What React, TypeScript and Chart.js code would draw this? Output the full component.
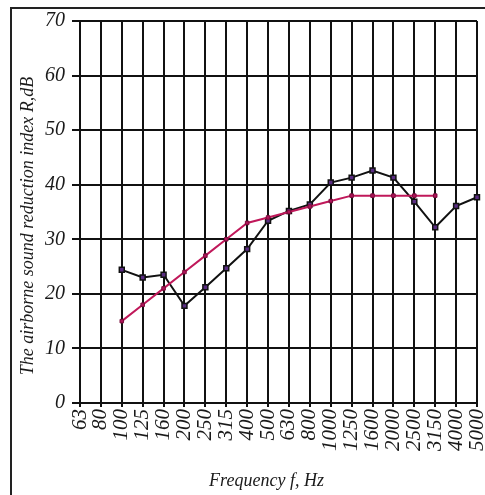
import React, { useEffect, useRef } from 'react';
import { Chart, registerables } from 'chart.js';

Chart.register(...registerables);

const frequencies = ['63', '80', '100', '125', '160', '200', '250', '315', '400', '500', '630', '800', '1000', '1250', '1600', '2000', '2500', '3150', '4000', '5000'];
const measured = [null, null, 24.4, 23.0, 23.5, 17.8, 21.2, 24.7, 28.2, 33.4, 35.2, 36.4, 40.4, 41.3, 42.6, 41.3, 36.9, 32.2, 36.1, 37.7];
const reference = [null, null, 15, 18, 21, 24, 27, 30, 33, 34, 35, 36, 37, 38, 38, 38, 38, 38, null, null];
const yMin = 0;
const yMax = 70;
const yStep = 10;

const xTitle = 'Frequency f, Hz';
const yTitle = 'The airborne sound reduction index R,dB';

const FONT = '"Liberation Serif", "Times New Roman", serif';

export default function App() {
  const ref = useRef<HTMLCanvasElement>(null);

  useEffect(() => {
    const titlePlugin = {
      id: 'axisTitles',
      afterDraw(chart: any) {
        const { ctx, chartArea } = chart;
        ctx.save();
        ctx.fillStyle = '#1a1a1a';
        ctx.font = `italic 18px ${FONT}`;
        ctx.textAlign = 'center';
        ctx.textBaseline = 'middle';
        ctx.fillText(xTitle, (chartArea.left + chartArea.right) / 2 - 12, chart.height - 14);
        ctx.translate(28, (chartArea.top + chartArea.bottom) / 2 + 14);
        ctx.rotate(-Math.PI / 2);
        ctx.fillText(yTitle, 0, 0);
        ctx.restore();
      },
    };

    const chart = new Chart(ref.current as HTMLCanvasElement, {
      type: 'line',
      data: {
        labels: frequencies,
        datasets: [
          {
            label: 'Reference',
            data: reference,
            borderColor: '#c0185a',
            backgroundColor: '#a3124c',
            borderWidth: 2,
            pointStyle: 'rect',
            pointRadius: 2.5,
            pointBackgroundColor: '#b0145a',
            pointBorderColor: '#7a0e3c',
            pointBorderWidth: 1,
            order: 0,
          },
          {
            label: 'Measured',
            data: measured,
            borderColor: '#111111',
            borderWidth: 2,
            pointStyle: 'rect',
            pointRadius: 3.5,
            pointBackgroundColor: '#5a2d82',
            pointBorderColor: '#111111',
            pointBorderWidth: 1.5,
            order: 1,
          },
        ],
      },
      options: {
        animation: false,
        responsive: false,
        devicePixelRatio: 1,
        layout: { padding: { left: 0, right: 8, top: 21, bottom: 0 } },
        plugins: {
          legend: { display: false },
          tooltip: { enabled: false },
        },
        scales: {
          x: {
            type: 'category',
            offset: false,
            grid: { color: '#111111', lineWidth: 2, tickLength: 4, drawTicks: true },
            border: { display: true, color: '#111111', width: 2 },
            ticks: {
              autoSkip: false,
              minRotation: 90,
              maxRotation: 90,
              padding: 2,
              color: '#1a1a1a',
              font: { family: FONT, size: 21, style: 'italic' },
            },
            afterFit(scale: any) {
              scale.height = 92;
              scale.paddingLeft = 0;
              scale.paddingRight = 0;
            },
          },
          y: {
            min: yMin,
            max: yMax,
            grid: { color: '#111111', lineWidth: 2, tickLength: 8 },
            border: { display: true, color: '#111111', width: 2 },
            ticks: {
              stepSize: yStep,
              padding: 7,
              color: '#1a1a1a',
              font: { family: FONT, size: 20, style: 'italic' },
            },
            afterFit(scale: any) {
              scale.width = 80;
              scale.paddingTop = 0;
              scale.paddingBottom = 0;
            },
          },
        },
      },
      plugins: [titlePlugin],
    } as any);

    return () => chart.destroy();
  }, []);

  return (
    <div style={{ position: 'fixed', left: 0, top: 0, width: 485, height: 495, background: '#ffffff' }}>
      <div
        style={{
          position: 'absolute',
          left: 10,
          top: 7,
          width: 475,
          height: 488,
          borderTop: '2px solid #222',
          borderLeft: '2px solid #222',
          boxSizing: 'border-box',
        }}
      />
      <canvas ref={ref} width={485} height={495} style={{ position: 'absolute', left: 0, top: 0 }} />
    </div>
  );
}
